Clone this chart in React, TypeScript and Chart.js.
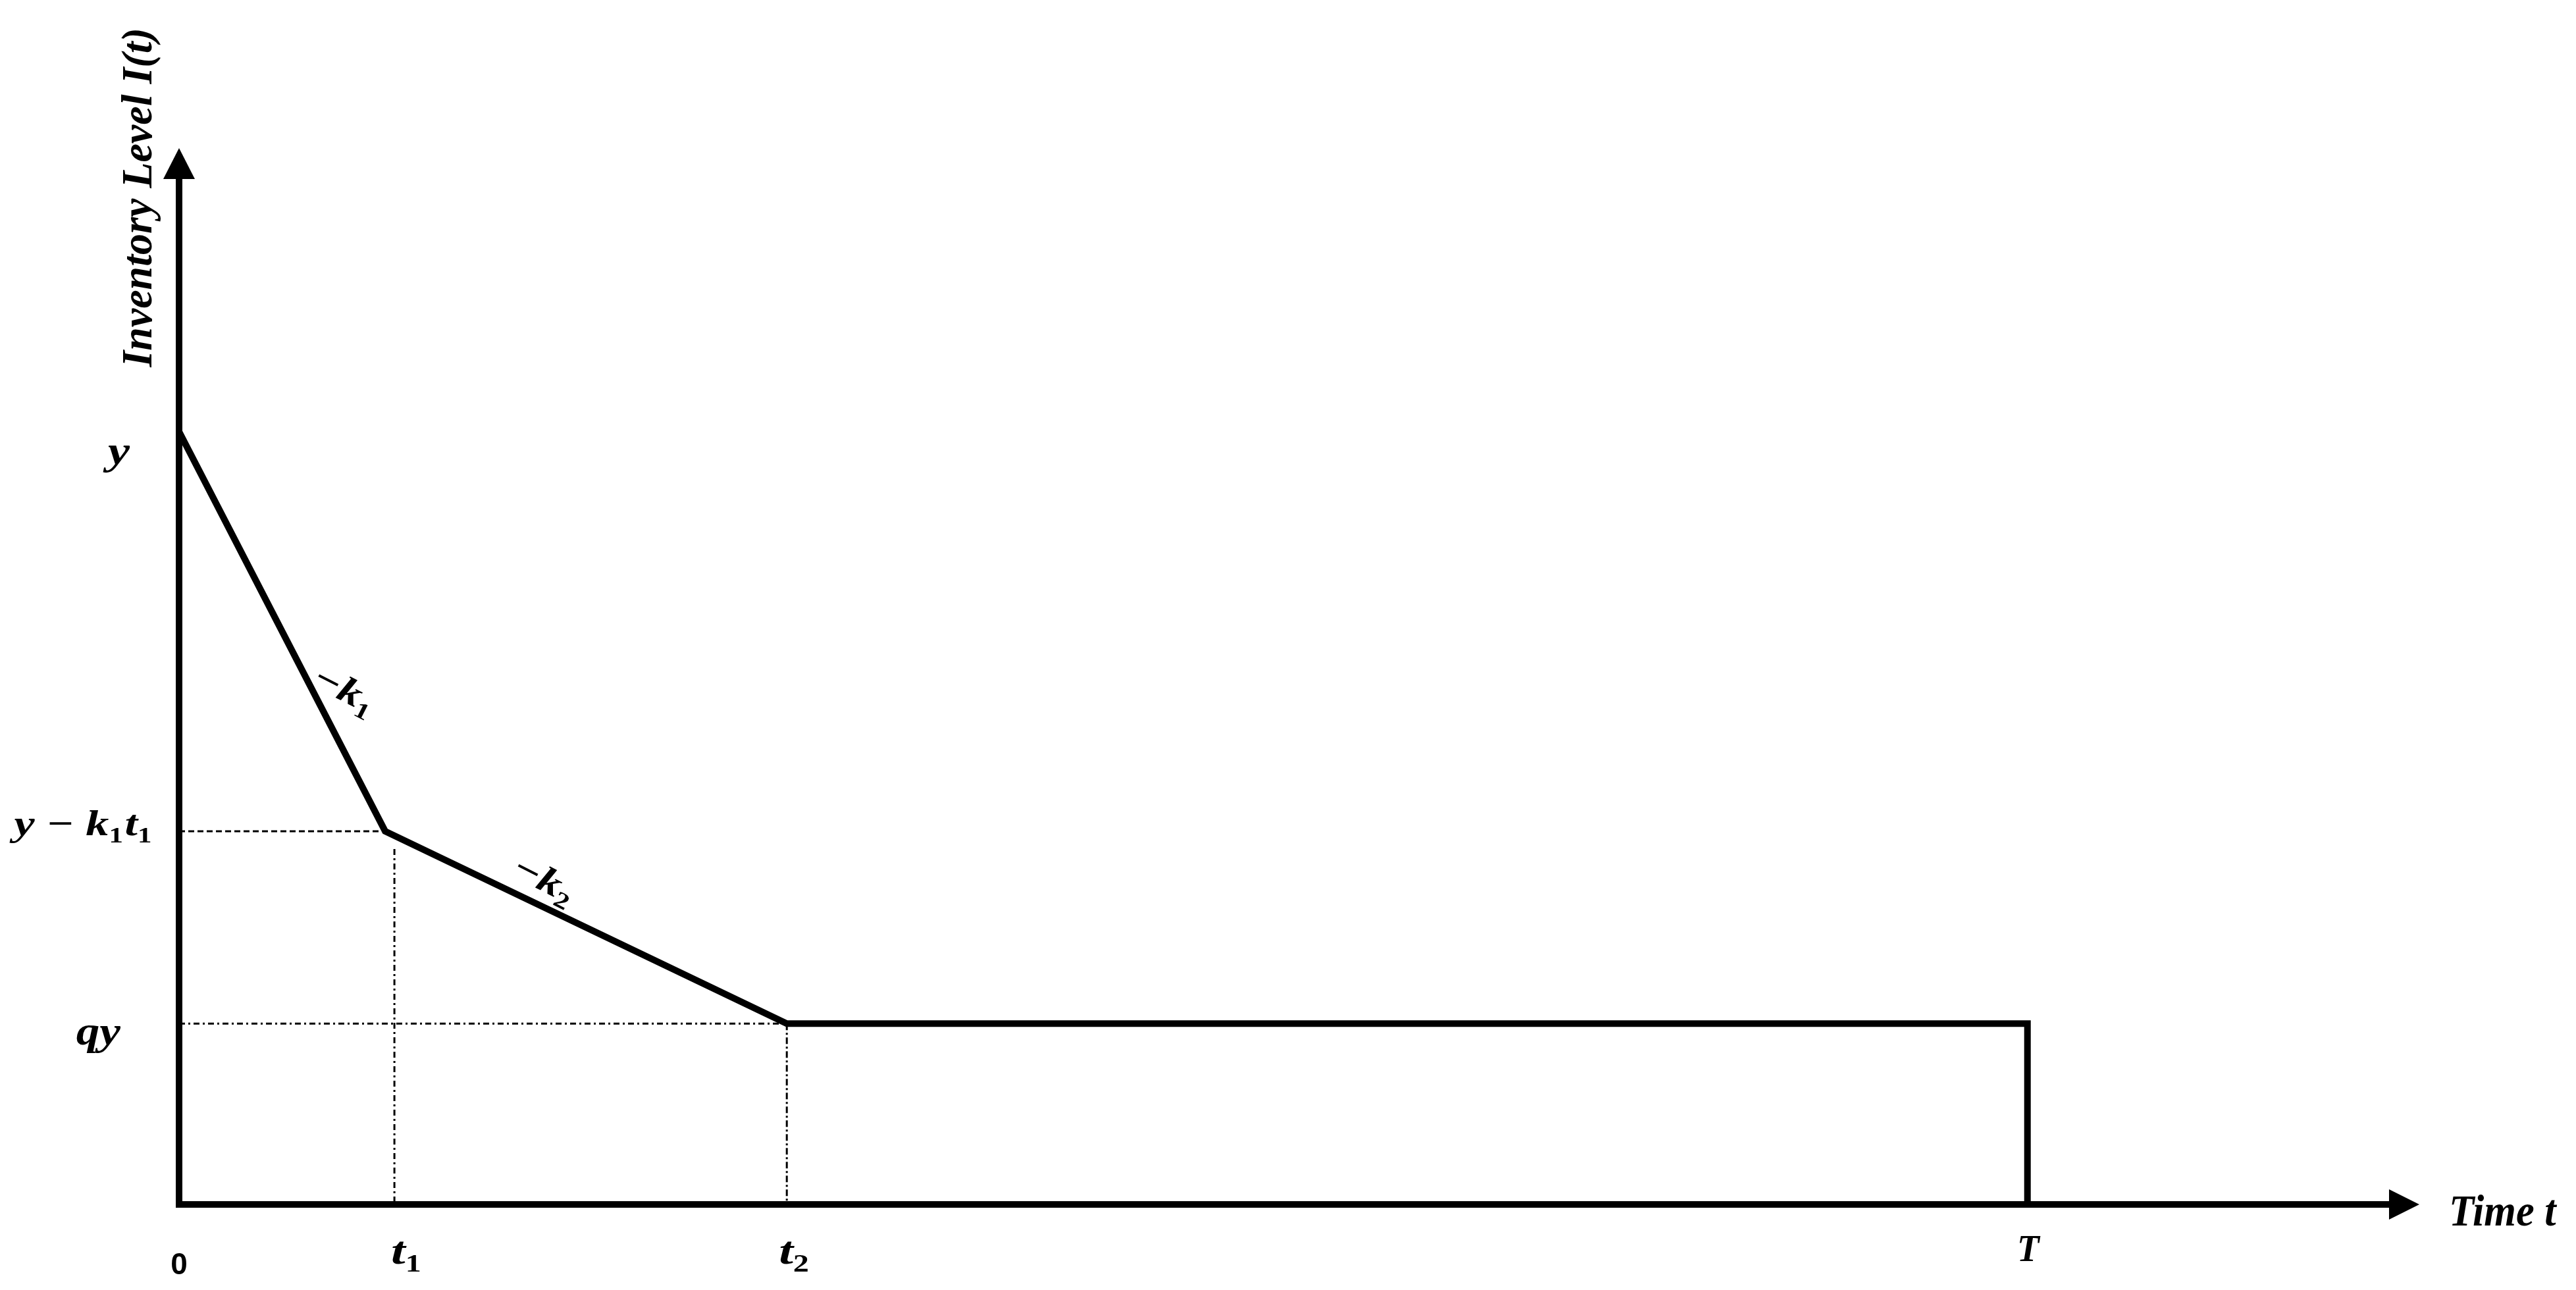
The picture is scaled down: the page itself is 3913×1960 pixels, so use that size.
import React, { useEffect, useRef } from "react";
import { Chart, registerables } from "chart.js";

Chart.register(...registerables);

// ---------- data (arbitrary units) ----------
const timePoints = [0, 1.115, 3.288, 10, 10];
const inventoryLevels = [10, 4.83, 2.34, 2.34, 0];
const xAxisMax = 12.12;
const yAxisMax = 13.67;

// guide lines: from (guideX1, guideY1) to (guideX2, guideY2)
const guideX1 = [0, 1.165, 0, 3.288];
const guideY1 = [4.83, 4.6, 2.34, 2.34];
const guideX2 = [1.115, 1.165, 3.288, 3.288];
const guideY2 = [4.83, 0, 2.34, 0];

// tick labels ("_" marks the next character as subscript)
const xTickValues = [0, 1.165, 3.288, 10];
const xTickLabels = ["0", "t_1", "t_2", "T"];
const yTickValues = [10, 4.83, 2.34];
const yTickLabels = ["y", "y \u2212 k_1t_1", "qy"];
const slopeLabels = ["\u2212k_1", "\u2212k_2"];
const xAxisTitle = "Time t";
const yAxisTitle = "Inventory Level I(t)";

// ---------- styles ----------
const SERIF = '"Liberation Serif", "Times New Roman", serif';
const SANS = '"Liberation Sans", Arial, sans-serif';
const guideDashes = [
  [9, 5],
  [9, 5, 3, 5],
  [9, 5, 3, 5],
  [10, 4, 3, 4],
];
const xLabelStyle = [
  { align: "center", dx: 0, dy: 106, size: 46, family: SANS, italic: false, stretch: 1 },
  { align: "left", dx: -5, dy: 90, size: 60, family: SERIF, italic: true, stretch: 1.3 },
  { align: "left", dx: -12, dy: 90, size: 60, family: SERIF, italic: true, stretch: 1.3 },
  { align: "center", dx: 1, dy: 86, size: 58, family: SERIF, italic: true, stretch: 0.95 },
];
const yLabelStyle = [
  { dx: -75, dy: 49, size: 62, stretch: 1.2 },
  { dx: -39, dy: 6, size: 54, stretch: 1.3 },
  { dx: -89, dy: 32, size: 62, stretch: 1.15 },
];
const slopeStyle = [
  { frac: 0.68, off: 44, size: 56, stretch: 1.25 },
  { frac: 0.37, off: 38, size: 56, stretch: 1.25 },
];
const slopeAngle = (27 * Math.PI) / 180;

type Seg = { text: string; sub: boolean };

function parseRich(s: string): Seg[] {
  const segs: Seg[] = [];
  let buf = "";
  for (let i = 0; i < s.length; i++) {
    if (s[i] === "_" && i + 1 < s.length) {
      if (buf) segs.push({ text: buf, sub: false });
      buf = "";
      segs.push({ text: s[i + 1], sub: true });
      i++;
    } else buf += s[i];
  }
  if (buf) segs.push({ text: buf, sub: false });
  return segs;
}

function fontStr(size: number, family: string, italic: boolean) {
  return `${italic ? "italic " : ""}bold ${size}px ${family}`;
}

function drawRich(
  ctx: CanvasRenderingContext2D,
  s: string,
  x: number,
  y: number,
  align: string,
  size: number,
  family: string,
  italic: boolean,
  stretch = 1
) {
  const segs = parseRich(s);
  const subSize = Math.round(size * 0.62);
  const widths = segs.map((sg) => {
    ctx.font = sg.sub ? fontStr(subSize, family, false) : fontStr(size, family, italic);
    return ctx.measureText(sg.text).width + (sg.sub ? 2 : 0);
  });
  const total = widths.reduce((a, b) => a + b, 0) * stretch;
  let start = x;
  if (align === "center") start = x - total / 2;
  else if (align === "right") start = x - total;
  ctx.save();
  ctx.translate(start, y);
  ctx.scale(stretch, 1);
  ctx.textAlign = "left";
  ctx.textBaseline = "alphabetic";
  let cx = 0;
  segs.forEach((sg, i) => {
    ctx.font = sg.sub ? fontStr(subSize, family, false) : fontStr(size, family, italic);
    ctx.fillText(sg.text, cx, sg.sub ? size * 0.2 : 0);
    cx += widths[i];
  });
  ctx.restore();
}

const annotate = {
  id: "annotate",
  beforeDatasetsDraw(chart: any) {
    const ctx: CanvasRenderingContext2D = chart.ctx;
    const xs = chart.scales.x;
    const ys = chart.scales.y;
    const ox = xs.getPixelForValue(0);
    const oy = ys.getPixelForValue(0);
    const xEnd = xs.getPixelForValue(xAxisMax);
    const yEnd = ys.getPixelForValue(yAxisMax);
    ctx.save();
    ctx.strokeStyle = "#000";
    ctx.fillStyle = "#000";
    ctx.lineWidth = 10;
    ctx.lineCap = "butt";
    ctx.beginPath();
    ctx.moveTo(ox - 5, oy);
    ctx.lineTo(xEnd - 44, oy);
    ctx.stroke();
    ctx.beginPath();
    ctx.moveTo(ox, oy + 5);
    ctx.lineTo(ox, yEnd + 45);
    ctx.stroke();
    ctx.beginPath();
    ctx.moveTo(xEnd, oy);
    ctx.lineTo(xEnd - 46, oy - 23);
    ctx.lineTo(xEnd - 46, oy + 23);
    ctx.closePath();
    ctx.fill();
    ctx.beginPath();
    ctx.moveTo(ox, yEnd);
    ctx.lineTo(ox - 24, yEnd + 47);
    ctx.lineTo(ox + 24, yEnd + 47);
    ctx.closePath();
    ctx.fill();
    ctx.restore();
  },
  afterDatasetsDraw(chart: any) {
    const ctx: CanvasRenderingContext2D = chart.ctx;
    const xs = chart.scales.x;
    const ys = chart.scales.y;
    const ox = xs.getPixelForValue(0);
    const oy = ys.getPixelForValue(0);
    const xEnd = xs.getPixelForValue(xAxisMax);
    const yEnd = ys.getPixelForValue(yAxisMax);
    ctx.save();
    ctx.fillStyle = "#000";

    // x tick labels
    xTickValues.forEach((v, i) => {
      const st = xLabelStyle[i];
      drawRich(ctx, xTickLabels[i], xs.getPixelForValue(v) + st.dx, oy + st.dy, st.align, st.size, st.family, st.italic, st.stretch);
    });
    // y tick labels
    yTickValues.forEach((v, i) => {
      const st = yLabelStyle[i];
      drawRich(ctx, yTickLabels[i], ox + st.dx, ys.getPixelForValue(v) + st.dy, "right", st.size, SERIF, true, st.stretch);
    });

    // slope labels
    slopeLabels.forEach((lab, i) => {
      const st = slopeStyle[i];
      const x0 = xs.getPixelForValue(timePoints[i]);
      const y0 = ys.getPixelForValue(inventoryLevels[i]);
      const x1 = xs.getPixelForValue(timePoints[i + 1]);
      const y1 = ys.getPixelForValue(inventoryLevels[i + 1]);
      const dx = x1 - x0;
      const dy = y1 - y0;
      const len = Math.hypot(dx, dy);
      const ux = dx / len;
      const uy = dy / len;
      const cx = x0 + st.frac * dx + st.off * uy;
      const cy = y0 + st.frac * dy - st.off * ux;
      ctx.save();
      ctx.translate(cx, cy);
      ctx.rotate(slopeAngle);
      drawRich(ctx, lab, 0, st.size * 0.3, "center", st.size, SERIF, true, st.stretch);
      ctx.restore();
    });

    // axis titles
    drawRich(ctx, xAxisTitle, xEnd + 45, oy + 32, "left", 68, SERIF, true, 0.92);
    ctx.save();
    ctx.translate(ox - 42, yEnd + 75);
    ctx.rotate(-Math.PI / 2);
    drawRich(ctx, yAxisTitle, 0, 0, "center", 66, SERIF, true, 0.97);
    ctx.restore();

    ctx.restore();
  },
};

export default function App() {
  const canvasRef = useRef<HTMLCanvasElement | null>(null);

  useEffect(() => {
    if (!canvasRef.current) return;
    const mainLine = {
      data: timePoints.map((t, i) => ({ x: t, y: inventoryLevels[i] })),
      borderColor: "#000",
      borderWidth: 10,
      pointRadius: 0,
      fill: false,
      tension: 0,
      borderJoinStyle: "miter" as const,
      borderCapStyle: "butt" as const,
    };
    const guides = guideX1.map((x1, i) => ({
      data: [
        { x: x1, y: guideY1[i] },
        { x: guideX2[i], y: guideY2[i] },
      ],
      borderColor: "#000",
      borderWidth: 3,
      borderDash: guideDashes[i],
      pointRadius: 0,
      fill: false,
      tension: 0,
    }));
    const chart = new Chart(canvasRef.current, {
      type: "line",
      data: { datasets: [mainLine, ...guides] as any },
      options: {
        animation: false,
        responsive: false,
        maintainAspectRatio: false,
        layout: { padding: { left: 272, right: 238, top: 225, bottom: 130 } },
        plugins: { legend: { display: false }, tooltip: { enabled: false } },
        scales: {
          x: { type: "linear", min: 0, max: xAxisMax, display: false },
          y: { type: "linear", min: 0, max: yAxisMax, display: false },
        },
      },
      plugins: [annotate],
    });
    return () => chart.destroy();
  }, []);

  return (
    <div style={{ position: "fixed", left: 0, top: 0, width: 3913, height: 1960, background: "#fff" }}>
      <canvas ref={canvasRef} width={3913} height={1960} style={{ width: 3913, height: 1960, display: "block" }} />
    </div>
  );
}
